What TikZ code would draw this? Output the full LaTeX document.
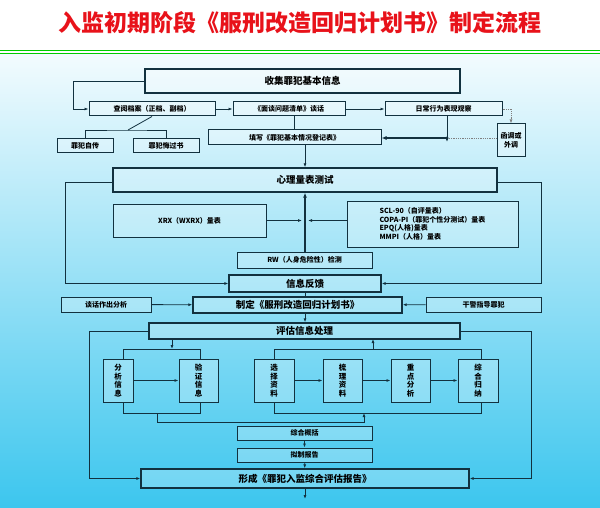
\documentclass[tikz,border=0pt]{standalone}
\usepackage{fontspec}
\setmainfont{Noto Sans CJK SC}
\usetikzlibrary{arrows.meta}
\definecolor{bgtop}{HTML}{F2FBFE}
\definecolor{bgbot}{HTML}{3CC6EE}
\definecolor{linec}{HTML}{12313F}
\definecolor{titlered}{HTML}{E8121A}
\tikzset{
  box/.style={draw=linec, line width=1pt, fill=white, fill opacity=0.25, text opacity=1,
    inner sep=0pt, font=\fontsize{7}{8.5}\selectfont\bfseries},
  bigbox/.style={box, line width=1.3pt, font=\fontsize{9.5}{10}\selectfont\bfseries},
  vbox/.style={box, align=center, font=\fontsize{7.5}{8.5}\selectfont\bfseries},
  link/.style={draw=linec, line width=0.8pt},
  arr/.style={link, -{Latex[length=4pt,width=3pt]}},
  thick arr/.style={link, line width=1.6pt, -{Latex[length=5pt,width=4pt]}},
  dot line/.style={draw=gray, line width=0.8pt, densely dotted}
}
\begin{document}
\begin{tikzpicture}[x=1pt,y=-1pt]
\useasboundingbox (0,0) rectangle (600,508);
\fill[white] (0,0) rectangle (600,50);
\shade[top color=bgtop, bottom color=bgbot] (0,55) rectangle (600,508);
\draw[green!80!black, line width=1pt] (0,50.5) -- (600,50.5) (0,54) -- (600,54);
\node[text=titlered, font=\fontsize{23}{25}\selectfont\bfseries] (title) at (300,23) {入监初期阶段《服刑改造回归计划书》制定流程};
% first stage
\node[bigbox, minimum width=315, minimum height=24] (collect) at (302.5,81) {收集罪犯基本信息};
\node[box, minimum width=126, minimum height=14] (files) at (152,109) {查阅档案（正档、副档）};
\node[box, minimum width=112, minimum height=14] (talk) at (289,109) {《面谈问题清单》谈话};
\node[box, minimum width=117, minimum height=14] (daily) at (443.5,109) {日常行为表现观察};
\node[box, align=center, minimum width=28, minimum height=33] (outside) at (511,140.5) {函调或\\外调};
\node[box, minimum width=56, minimum height=14] (bio) at (85,146) {罪犯自传};
\node[box, minimum width=66, minimum height=14] (repent) at (166,146) {罪犯悔过书};
\node[box, minimum width=173, minimum height=15] (form) at (294.5,137.5) {填写《罪犯基本情况登记表》};
\coordinate (merge) at (447,138);
\coordinate (split) at (128,130);
\draw[arr] (collect.west) -| (73,109) -- (files.west);
\draw[arr] (files) -- (talk);
\draw[arr] (talk) -- (daily);
\draw[dot line, -{Latex[length=4pt,width=3pt]}] (daily.east) -| (outside.north);
\draw[link] (files.south) -- (split);
\draw[link] (bio.north) |- (split) -| (repent.north);
\draw[link] (talk.south -| form) -- (form.north);
\draw[arr] (daily.south -| merge) -- ([yshift=-4pt]merge);
\draw[dot line] (outside.west |- merge) -- (merge);
\fill[linec] (merge) circle (1.6pt);
\draw[thick arr] (merge) -- (form.east |- merge);
% psychological tests
\node[bigbox, minimum width=384, minimum height=24] (psy) at (305,180) {心理量表测试};
\node[box, minimum width=153, minimum height=33] (xrx) at (189.5,220.5) {XRX（WXRX）量表};
\node[box, align=left, minimum width=171, minimum height=46] (scl) at (432.5,224) {SCL-90（自评量表）\\COPA-PI（罪犯个性分测试）量表\\EPQ(人格)量表\\MMPI（人格）量表};
\node[box, minimum width=135, minimum height=16] (rw) at (304.5,260) {RW（人身危险性）检测};
\node[bigbox, minimum width=152, minimum height=17] (feedback) at (305,283.5) {信息反馈};
\draw[arr] (form.south -| psy) -- (psy);
\draw[thick arr] (rw.north -| psy) -- (psy.south);
\draw[arr] (xrx.east) -- (302,220.5);
\draw[arr] (scl.west |- xrx) -- (308,220.5);
\draw[arr] (psy.west |- 0,182) -- (65,182) |- (feedback.west);
\draw[arr] (psy.east |- 0,182) -- (541,182) |- (feedback.east);
% plan
\node[box, minimum width=90, minimum height=15] (analysis) at (106,304.5) {谈话作出分析};
\node[bigbox, minimum width=209, minimum height=16] (plan) at (297.5,305) {制定《服刑改造回归计划书》};
\node[box, minimum width=115, minimum height=15] (guide) at (483.5,304.5) {干警指导罪犯};
\node[bigbox, minimum width=311, minimum height=16] (assess) at (304.5,331) {评估信息处理};
\draw[link] (feedback) -- (feedback |- plan.north);
\draw[arr] (analysis) -- (plan);
\draw[arr] (guide) -- (plan);
\draw[arr] (plan.south -| feedback) -- (feedback |- assess.north);
% evaluation steps
\node[vbox, minimum width=30, minimum height=43] (s1) at (118,380.5) {分\\析\\信\\息};
\node[vbox, minimum width=39, minimum height=43] (s2) at (198.5,380.5) {验\\证\\信\\息};
\node[vbox, minimum width=40, minimum height=43] (s3) at (274,380.5) {选\\择\\资\\料};
\node[vbox, minimum width=39, minimum height=43] (s4) at (342.5,380.5) {梳\\理\\资\\料};
\node[vbox, minimum width=39, minimum height=43] (s5) at (410.5,380.5) {重\\点\\分\\析};
\node[vbox, minimum width=40, minimum height=43] (s6) at (478,380.5) {综\\合\\归\\纳};
\draw[arr] (s1) -- (s2);
\draw[arr] (s3) -- (s4);
\draw[arr] (s4) -- (s5);
\draw[arr] (s5) -- (s6);
\draw[arr] (172,339) -- (172,349);
\draw[link] (s1.north -| 123,0) |- (200,349) -- (s2.north -| 200,0);
\draw[link] (s1.south -| 123,0) |- (200,413) -- (s2.south -| 200,0);
\draw[link] (s3.north -| 274,0) |- (481,349) -- (s6.north -| 481,0);
\draw[arr] (373,349) -- (373,339);
\draw[link] (s3.south -| 274,0) |- (481,413) -- (s6.south -| 481,0);
\draw[arr] (157,413) |- (364,422) -- (364,413);
% report
\node[box, minimum width=135, minimum height=14] (sum) at (304.5,433) {综合概括};
\node[box, minimum width=135, minimum height=14] (draft) at (304.5,455) {拟制报告};
\node[bigbox, minimum width=328, minimum height=19] (report) at (305,478.5) {形成《罪犯入监综合评估报告》};
\coordinate (tail) at (305,499);
\draw[arr] (sum) -- (draft);
\draw[arr] (draft) -- (report);
\draw[arr] (report) -- (tail);
\draw[arr] (assess.west) -- (89,331) |- (report.west);
\draw[arr] (assess.east) -- (531,331) |- (report.east);
\end{tikzpicture}
\end{document}
